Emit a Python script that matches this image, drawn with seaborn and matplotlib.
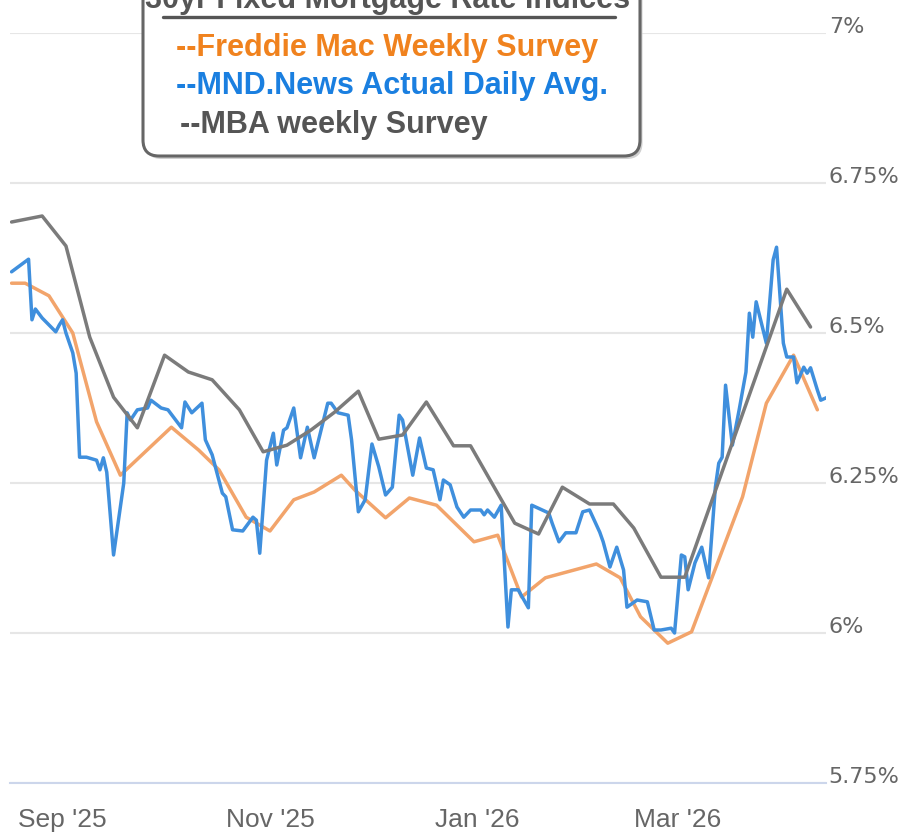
import matplotlib
matplotlib.use('Agg')
import matplotlib.pyplot as plt
from matplotlib.lines import Line2D
from matplotlib.patches import FancyBboxPatch
import pandas as pd
import seaborn as sns

# MND daily index
MND_DATES = [
    '2025-08-17', '2025-08-22', '2025-08-23', '2025-08-24', '2025-08-26', '2025-08-30', '2025-08-31',
    '2025-09-01', '2025-09-02', '2025-09-04', '2025-09-05', '2025-09-06', '2025-09-08', '2025-09-11',
    '2025-09-12', '2025-09-13', '2025-09-14', '2025-09-16', '2025-09-19', '2025-09-20', '2025-09-21',
    '2025-09-23', '2025-09-26', '2025-09-27', '2025-09-30', '2025-10-02', '2025-10-06', '2025-10-07',
    '2025-10-09', '2025-10-12', '2025-10-13', '2025-10-15', '2025-10-18', '2025-10-19', '2025-10-21',
    '2025-10-24', '2025-10-27', '2025-10-28', '2025-10-29', '2025-10-31', '2025-11-02', '2025-11-03',
    '2025-11-05', '2025-11-06', '2025-11-08', '2025-11-10', '2025-11-12', '2025-11-14', '2025-11-18',
    '2025-11-19', '2025-11-21', '2025-11-24', '2025-11-25', '2025-11-27', '2025-11-29', '2025-12-01',
    '2025-12-03', '2025-12-05', '2025-12-07', '2025-12-09', '2025-12-10', '2025-12-13', '2025-12-15',
    '2025-12-17', '2025-12-19', '2025-12-21', '2025-12-22', '2025-12-24', '2025-12-26', '2025-12-28',
    '2025-12-30', '2026-01-02', '2026-01-03', '2026-01-04', '2026-01-06', '2026-01-08', '2026-01-10',
    '2026-01-11', '2026-01-13', '2026-01-16', '2026-01-17', '2026-01-22', '2026-01-23', '2026-01-25',
    '2026-01-27', '2026-01-30', '2026-02-01', '2026-02-03', '2026-02-06', '2026-02-07', '2026-02-09',
    '2026-02-11', '2026-02-13', '2026-02-14', '2026-02-17', '2026-02-20', '2026-02-22', '2026-02-24',
    '2026-02-27', '2026-02-28', '2026-03-02', '2026-03-03', '2026-03-04', '2026-03-06', '2026-03-08',
    '2026-03-10', '2026-03-12', '2026-03-13', '2026-03-14', '2026-03-15', '2026-03-17', '2026-03-19',
    '2026-03-21', '2026-03-22', '2026-03-23', '2026-03-24', '2026-03-27', '2026-03-29', '2026-03-30',
    '2026-04-01', '2026-04-02', '2026-04-04', '2026-04-05', '2026-04-07', '2026-04-08', '2026-04-09',
    '2026-04-11', '2026-04-12', '2026-04-14',
]
MND_RATES = [
    6.602, 6.623, 6.522, 6.540, 6.525, 6.502, 6.513,
    6.522, 6.500, 6.467, 6.433, 6.293, 6.293, 6.288,
    6.272, 6.292, 6.268, 6.130, 6.250, 6.367, 6.355,
    6.372, 6.375, 6.388, 6.375, 6.372, 6.342, 6.385,
    6.367, 6.383, 6.322, 6.297, 6.233, 6.227, 6.172,
    6.170, 6.193, 6.188, 6.133, 6.288, 6.333, 6.280,
    6.338, 6.342, 6.375, 6.292, 6.343, 6.292, 6.383,
    6.383, 6.367, 6.363, 6.322, 6.202, 6.222, 6.315,
    6.277, 6.230, 6.243, 6.363, 6.355, 6.263, 6.325,
    6.275, 6.272, 6.222, 6.255, 6.247, 6.210, 6.193,
    6.205, 6.205, 6.197, 6.205, 6.193, 6.213, 6.010,
    6.072, 6.072, 6.042, 6.213, 6.200, 6.183, 6.152,
    6.167, 6.167, 6.202, 6.205, 6.168, 6.152, 6.110,
    6.143, 6.105, 6.043, 6.055, 6.052, 6.005, 6.005,
    6.008, 6.000, 6.130, 6.127, 6.072, 6.117, 6.143,
    6.092, 6.243, 6.283, 6.293, 6.413, 6.313, 6.372,
    6.435, 6.533, 6.493, 6.552, 6.483, 6.622, 6.643,
    6.483, 6.460, 6.460, 6.417, 6.443, 6.433, 6.442,
    6.405, 6.388, 6.393,
]

# Freddie Mac weekly survey
FREDDIE_DATES = [
    '2025-08-17', '2025-08-21', '2025-08-28', '2025-09-04', '2025-09-11', '2025-09-18', '2025-10-03',
    '2025-10-11', '2025-10-17', '2025-10-25', '2025-11-01', '2025-11-08', '2025-11-14', '2025-11-22',
    '2025-11-26', '2025-12-05', '2025-12-12', '2025-12-20', '2025-12-31', '2026-01-07', '2026-01-14',
    '2026-01-21', '2026-02-05', '2026-02-12', '2026-02-18', '2026-02-26', '2026-03-05', '2026-03-20',
    '2026-03-27', '2026-04-04', '2026-04-11',
]
FREDDIE_RATES = [
    6.583, 6.583, 6.562, 6.500, 6.352, 6.263, 6.343,
    6.305, 6.272, 6.193, 6.170, 6.222, 6.235, 6.263,
    6.238, 6.192, 6.225, 6.213, 6.152, 6.163, 6.060,
    6.092, 6.115, 6.092, 6.027, 5.983, 6.002, 6.227,
    6.383, 6.463, 6.372,
]

# MBA weekly survey
MBA_DATES = [
    '2025-08-17', '2025-08-26', '2025-09-02', '2025-09-09', '2025-09-16', '2025-09-23', '2025-10-01',
    '2025-10-08', '2025-10-15', '2025-10-23', '2025-10-30', '2025-11-06', '2025-11-13', '2025-11-20',
    '2025-11-27', '2025-12-03', '2025-12-10', '2025-12-17', '2025-12-25', '2025-12-30', '2026-01-12',
    '2026-01-19', '2026-01-26', '2026-02-03', '2026-02-10', '2026-02-16', '2026-02-24', '2026-03-03',
    '2026-04-02', '2026-04-09',
]
MBA_RATES = [
    6.685, 6.695, 6.645, 6.493, 6.393, 6.342, 6.463,
    6.435, 6.422, 6.372, 6.302, 6.313, 6.338, 6.368,
    6.403, 6.323, 6.330, 6.385, 6.312, 6.312, 6.183,
    6.165, 6.243, 6.215, 6.215, 6.175, 6.093, 6.093,
    6.573, 6.510,
]

X_TICKS = ['2025-09-01', '2025-11-01', '2026-01-01', '2026-03-01']
X_TICK_LABELS = ["Sep '25", "Nov '25", "Jan '26", "Mar '26"]
Y_TICKS = [5.75, 6.0, 6.25, 6.5, 6.75, 7.0]
Y_TICK_LABELS = ['5.75%', '6%', '6.25%', '6.5%', '6.75%', '7%']

LEGEND_LINES = ['--Freddie Mac Weekly Survey', '--MND.News Actual Daily Avg.', '--MBA weekly Survey']
TITLE = '30yr Fixed Mortgage Rate Indices'

W, H = 898, 835
NARROW = ['Liberation Sans', 'DejaVu Sans']


def fx(px):
    return px / W


def fy(py):
    return 1 - py / H


def frame(dates, rates):
    return pd.DataFrame({'date': pd.to_datetime(dates), 'rate': rates})


sns.set_style('white')
plt.rcParams['font.family'] = ['DejaVu Sans']

fig = plt.figure(figsize=(W / 100, H / 100), dpi=100)
ax = fig.add_axes([fx(10), fy(783), fx(826) - fx(10), fy(33) - fy(783)])

ax.grid(axis='y', color='#e6e6e6', lw=1.5)
ax.set_axisbelow(True)

sns.lineplot(data=frame(FREDDIE_DATES, FREDDIE_RATES), x='date', y='rate', ax=ax,
             color='#f2a46b', lw=2.5, estimator=None)
sns.lineplot(data=frame(MND_DATES, MND_RATES), x='date', y='rate', ax=ax,
             color='#3f8fdd', lw=2.5, estimator=None)
sns.lineplot(data=frame(MBA_DATES, MBA_RATES), x='date', y='rate', ax=ax,
             color='#7b7b7b', lw=2.5, estimator=None)

ax.set_xlim(pd.Timestamp('2025-08-16 13:00'), pd.Timestamp('2026-04-13 13:00'))
ax.set_ylim(5.75, 7.0)
ax.set_xlabel('')
ax.set_ylabel('')

for side in ['top', 'left', 'right']:
    ax.spines[side].set_visible(False)
ax.spines['bottom'].set_color('#ccd6eb')
ax.spines['bottom'].set_linewidth(1.5)

ax.set_xticks(pd.to_datetime(X_TICKS))
ax.set_xticklabels(X_TICK_LABELS, family=NARROW, fontsize=19, color='#666666')
ax.tick_params(axis='x', length=16, width=1.2, color='#c4cfe6', pad=2)

ax.yaxis.tick_right()
ax.set_yticks(Y_TICKS)
ax.set_yticklabels(Y_TICK_LABELS, fontsize=16, color='#666666')
ax.tick_params(axis='y', length=0, pad=2)
for lbl in ax.get_yticklabels():
    lbl.set_va('baseline')

# legend box, cut at the top like the source
shadow = FancyBboxPatch((1.455, (H - 159) / 100), 4.97, 2.2,
                        boxstyle='round,pad=0,rounding_size=0.16',
                        transform=fig.dpi_scale_trans, fc='#d0d0d0', ec='none', zorder=4)
fig.add_artist(shadow)
box = FancyBboxPatch((1.43, (H - 156) / 100), 4.97, 2.2,
                     boxstyle='round,pad=0,rounding_size=0.16',
                     transform=fig.dpi_scale_trans, fc='white', ec='#666666', lw=2.2, zorder=5)
fig.add_artist(box)

fig.text(fx(388), fy(8), TITLE, ha='center', va='baseline', family=NARROW,
         fontsize=22, fontweight='bold', color='#555555', zorder=6)
fig.add_artist(Line2D([fx(163), fx(615)], [fy(17), fy(17)], color='#555555', lw=2.4, zorder=6))

legend_colors = ['#f0821e', '#1a7fe0', '#555555']
legend_pos = [(176, 56), (176, 94), (180, 133)]
for txt, col, (lx, ly) in zip(LEGEND_LINES, legend_colors, legend_pos):
    fig.text(fx(lx), fy(ly), txt, ha='left', va='baseline', family=NARROW,
             fontsize=22, fontweight='bold', color=col, zorder=6)

fig.savefig('out.png', dpi=100)
